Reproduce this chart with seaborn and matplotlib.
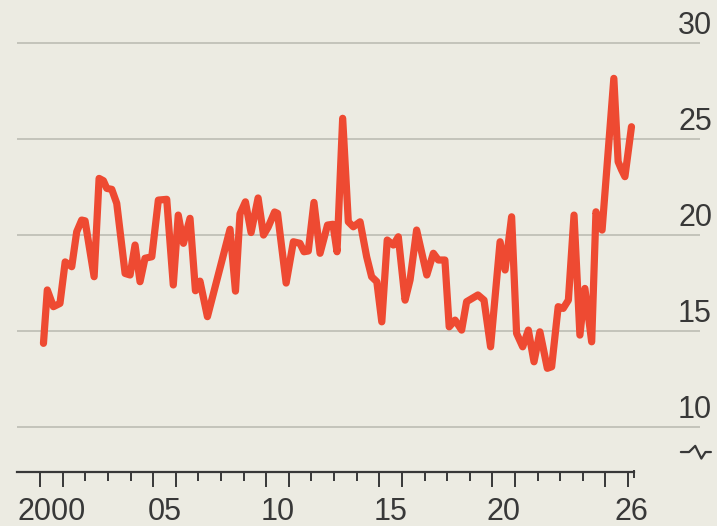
import numpy as np
import pandas as pd
import matplotlib
matplotlib.use('Agg')
import matplotlib.pyplot as plt
import matplotlib.transforms as mtransforms
import seaborn as sns

BG = '#ECEBE2'
RED = '#EE4A32'
GRID = '#BDBDB4'
INK = '#383838'

# values (decimal year, level)
years = [2000.15, 2000.32, 2000.59, 2000.88, 2001.11, 2001.40, 2001.62, 2001.84, 2001.99,
         2002.39, 2002.61, 2002.80, 2002.95, 2003.17, 2003.39, 2003.76, 2003.98, 2004.20,
         2004.42, 2004.64, 2004.94, 2005.23, 2005.60, 2005.89, 2006.11, 2006.34, 2006.63,
         2006.87, 2007.07, 2007.40, 2008.40, 2008.64, 2008.84, 2009.08, 2009.33, 2009.64,
         2009.88, 2010.08, 2010.37, 2010.50, 2010.88, 2011.20, 2011.49, 2011.67, 2011.86,
         2012.11, 2012.38, 2012.71, 2012.95, 2013.13, 2013.38, 2013.63, 2013.85, 2014.15,
         2014.44, 2014.66, 2014.89, 2015.11, 2015.35, 2015.62, 2015.84, 2016.14, 2016.36,
         2016.65, 2017.10, 2017.39, 2017.61, 2017.90, 2018.09, 2018.35, 2018.64, 2018.86,
         2019.36, 2019.63, 2019.92, 2020.34, 2020.56, 2020.85, 2021.07, 2021.34, 2021.59,
         2021.84, 2022.10, 2022.43, 2022.62, 2022.91, 2023.13, 2023.36, 2023.61, 2023.87,
         2024.09, 2024.39, 2024.58, 2024.85, 2025.37, 2025.56, 2025.71, 2025.86, 2026.15]
values = [14.36, 17.14, 16.27, 16.44, 18.60, 18.35, 20.17, 20.78, 20.74,
          17.83, 22.95, 22.83, 22.43, 22.38, 21.65, 18.00, 17.92, 19.48,
          17.57, 18.79, 18.87, 21.82, 21.86, 17.40, 21.04, 19.57, 20.87,
          17.10, 17.60, 15.75, 20.30, 17.08, 21.10, 21.73, 20.13, 21.93,
          20.00, 20.40, 21.20, 21.13, 17.50, 19.65, 19.57, 19.13, 19.17,
          21.70, 19.05, 20.52, 20.56, 19.13, 26.08, 20.69, 20.43, 20.69,
          18.87, 17.83, 17.57, 15.48, 19.74, 19.48, 19.91, 16.61, 17.66,
          20.26, 17.92, 19.05, 18.70, 18.70, 15.22, 15.57, 15.05, 16.53,
          16.88, 16.61, 14.18, 19.65, 18.18, 20.95, 14.88, 14.18, 15.05,
          13.40, 14.96, 13.06, 13.14, 16.27, 16.18, 16.61, 21.04, 14.79,
          17.22, 14.44, 21.21, 20.26, 28.16, 23.82, 23.40, 23.04, 25.64]

ygrid = [10, 15, 20, 25, 30]
xlabels = ['2000', '05', '10', '15', '20', '26']
xlabel_pos = [2000.5, 2005.5, 2010.5, 2015.5, 2020.5, 2026.13]
long_ticks = [2000, 2001, 2005, 2006, 2010, 2011, 2015, 2016, 2020, 2021, 2025, 2026]
short_ticks = [y for y in range(2000, 2027) if y not in long_ticks]
x_min, x_max = 1998.98, 2029.18
axis_end = 2026.27
y_min, y_max = 7.66, 31.72

sns.set_style('white', {'axes.facecolor': BG, 'figure.facecolor': BG})
plt.rcParams['font.family'] = ['Liberation Sans', 'DejaVu Sans']

df = pd.DataFrame({'year': years, 'value': values})

fig = plt.figure(figsize=(7.17, 5.26), dpi=100)
ax = fig.add_axes([17/717, 54/526, 683/717, 462/526])
ax.set_xlim(x_min, x_max)
ax.set_ylim(y_min, y_max)

# gridlines
ax.hlines(ygrid, x_min, x_max, color=GRID, lw=1.2, zorder=1)

sns.lineplot(data=df, x='year', y='value', color=RED, lw=5.2, ax=ax, zorder=3)

# y labels on the right, sitting above the gridlines
ytrans = mtransforms.blended_transform_factory(ax.transAxes, ax.transData)
ytrans = mtransforms.offset_copy(ytrans, fig=fig, x=12, y=9, units='dots')
for v in ygrid:
    ax.text(1.0, v, str(v), transform=ytrans, ha='right', va='baseline',
            fontsize=22, color=INK)

# axis break symbol
bx = np.array([0.972, 0.984, 0.993, 1.002, 1.008, 1.016])
by = np.array([8.70, 8.70, 9.02, 8.36, 8.70, 8.70])
ax.plot(bx, by, transform=mtransforms.blended_transform_factory(ax.transAxes, ax.transData),
        color=INK, lw=1.6, clip_on=False)

# x axis: line plus hand-drawn year ticks
for s in ['left', 'right', 'top']:
    ax.spines[s].set_visible(False)
ax.spines['bottom'].set_color(INK)
ax.spines['bottom'].set_linewidth(1.6)
ax.spines['bottom'].set_bounds(x_min, axis_end)
ax.set_xticks([])
ax.set_yticks([])
ax.set_xlabel('')
ax.set_ylabel('')

xax = mtransforms.blended_transform_factory(ax.transData, ax.transAxes)
px = 1 / 462  # one pixel in axes-height units
ax.vlines(long_ticks, -15 * px, 0, transform=xax, color=INK, lw=1.4, clip_on=False)
ax.vlines(short_ticks, -9 * px, 0, transform=xax, color=INK, lw=1.4, clip_on=False)
ax.vlines([axis_end], -6 * px, 2 * px, transform=xax, color=INK, lw=1.4, clip_on=False)

xtrans = mtransforms.offset_copy(xax, fig=fig, y=-48, units='dots')
for pos, lab in zip(xlabel_pos, xlabels):
    ax.text(pos, 0, lab, transform=xtrans, ha='center', va='baseline',
            fontsize=22, color=INK)

fig.savefig('out.png', dpi=100, facecolor=BG)
